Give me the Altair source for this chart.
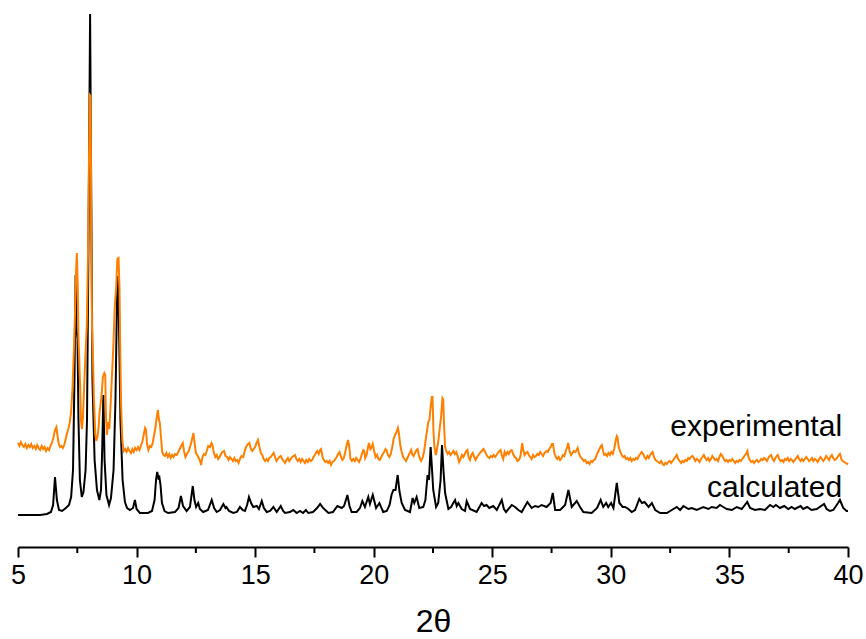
import altair as alt
import pandas as pd

# ---- calculated pattern (2theta, intensity) ----
calc_x = [5.00, 5.51, 5.93, 6.22, 6.39, 6.48, 6.56, 6.64, 6.73, 6.86, 7.02, 7.15, 7.24, 7.32, 7.38, 7.43, 7.47, 7.51, 7.55, 7.61,
          7.69, 7.76, 7.85, 7.91, 7.97, 8.04, 8.09, 8.14, 8.23, 8.33, 8.43, 8.50, 8.55, 8.60, 8.65, 8.73, 8.84, 8.92, 9.03, 9.11,
          9.19, 9.24, 9.27, 9.32, 9.41, 9.51, 9.60, 9.72, 9.85, 9.93, 10.00, 10.14, 10.48, 10.65, 10.76, 10.82, 10.87, 10.92, 10.96, 11.01,
          11.07, 11.18, 11.33, 11.62, 11.77, 11.87, 11.96, 12.11, 12.25, 12.37, 12.44, 12.51, 12.60, 12.67, 12.81, 13.01, 13.17, 13.27, 13.38, 13.52,
          13.66, 13.75, 13.79, 13.90, 14.08, 14.23, 14.36, 14.47, 14.57, 14.66, 14.74, 14.83, 14.92, 15.07, 15.16, 15.28, 15.37, 15.49, 15.63, 15.77,
          15.91, 16.08, 16.18, 16.26, 16.47, 16.61, 16.75, 16.89, 17.02, 17.14, 17.24, 17.44, 17.61, 17.74, 17.87, 18.09, 18.28, 18.47, 18.65, 18.75,
          18.89, 18.98, 19.07, 19.28, 19.42, 19.52, 19.63, 19.77, 19.84, 19.96, 20.10, 20.24, 20.40, 20.55, 20.67, 20.75, 20.83, 20.92, 21.01, 21.09,
          21.18, 21.32, 21.53, 21.64, 21.71, 21.81, 21.92, 22.09, 22.18, 22.27, 22.33, 22.40, 22.46, 22.51, 22.63, 22.72, 22.82, 22.88, 22.94, 23.01,
          23.15, 23.26, 23.43, 23.50, 23.57, 23.71, 23.85, 23.92, 24.06, 24.34, 24.55, 24.65, 24.76, 24.87, 25.04, 25.19, 25.40, 25.49, 25.58, 25.82,
          25.96, 26.10, 26.24, 26.48, 26.66, 26.80, 26.94, 27.08, 27.29, 27.46, 27.55, 27.65, 27.86, 28.07, 28.21, 28.35, 28.56, 28.70, 28.84, 29.19,
          29.42, 29.57, 29.68, 29.80, 29.89, 30.01, 30.11, 30.25, 30.36, 30.50, 30.60, 30.74, 30.88, 31.02, 31.20, 31.31, 31.42, 31.59, 31.73, 31.87,
          32.08, 32.36, 32.57, 32.78, 32.92, 33.06, 33.27, 33.41, 33.62, 33.90, 34.11, 34.25, 34.46, 34.60, 34.74, 34.89, 35.10, 35.31, 35.52, 35.75,
          35.87, 36.08, 36.29, 36.50, 36.71, 36.85, 36.96, 37.13, 37.31, 37.48, 37.62, 37.76, 38.00, 38.11, 38.28, 38.46, 38.68, 38.99, 39.10, 39.24,
          39.38, 39.58, 39.66, 39.80, 39.94, 40.00]
calc_y = [32, 32, 32, 33, 35, 42, 70, 47, 37, 36, 39, 42, 50, 77, 167, 272, 217, 208, 127, 67,
          50, 55, 77, 127, 297, 533, 347, 167, 87, 57, 47, 57, 97, 152, 87, 52, 42, 49, 77, 147,
          271, 247, 207, 127, 67, 45, 39, 37, 39, 47, 38, 34, 34, 36, 47, 67, 75, 69, 70, 62,
          44, 36, 34, 35, 39, 51, 41, 36, 40, 61, 47, 40, 44, 38, 35, 37, 47, 39, 35, 37,
          43, 39, 40, 36, 34, 35, 40, 37, 36, 42, 50, 44, 40, 41, 38, 46, 39, 35, 36, 40,
          35, 41, 36, 34, 35, 37, 34, 36, 34, 37, 34, 35, 39, 43, 39, 34, 35, 41, 39, 41,
          52, 41, 35, 35, 39, 46, 40, 50, 43, 52, 39, 44, 35, 36, 42, 52, 57, 57, 72, 55,
          44, 37, 35, 49, 44, 50, 39, 40, 47, 72, 67, 100, 77, 57, 40, 44, 67, 102, 77, 54,
          38, 40, 47, 41, 44, 38, 36, 46, 38, 35, 44, 41, 42, 39, 41, 37, 47, 38, 35, 42,
          40, 37, 35, 45, 39, 41, 40, 42, 40, 44, 54, 37, 37, 42, 57, 40, 46, 40, 35, 34,
          39, 47, 40, 44, 40, 44, 39, 64, 44, 40, 40, 38, 35, 37, 48, 44, 45, 40, 44, 37,
          34, 34, 37, 40, 37, 41, 38, 39, 37, 40, 38, 40, 39, 42, 40, 38, 37, 40, 38, 45,
          39, 37, 38, 37, 42, 40, 42, 39, 41, 38, 40, 38, 41, 38, 40, 37, 38, 43, 38, 36,
          37, 44, 47, 39, 36, 36]

# ---- experimental pattern (2theta, intensity) ----
exp_x = [5.00, 5.06, 5.12, 5.18, 5.25, 5.31, 5.37, 5.44, 5.50, 5.56, 5.62, 5.69, 5.75, 5.81, 5.87, 5.93, 6.00, 6.06, 6.12, 6.18,
         6.25, 6.31, 6.37, 6.43, 6.50, 6.56, 6.62, 6.66, 6.71, 6.77, 6.83, 6.89, 6.95, 7.00, 7.06, 7.12, 7.18, 7.24, 7.30, 7.36,
         7.40, 7.44, 7.48, 7.52, 7.55, 7.58, 7.62, 7.66, 7.70, 7.74, 7.78, 7.84, 7.90, 7.95, 7.99, 8.03, 8.06, 8.09, 8.12, 8.16,
         8.20, 8.26, 8.30, 8.35, 8.40, 8.44, 8.52, 8.58, 8.64, 8.68, 8.71, 8.75, 8.80, 8.85, 8.90, 8.96, 9.02, 9.08, 9.14, 9.19,
         9.24, 9.28, 9.31, 9.35, 9.40, 9.46, 9.52, 9.58, 9.64, 9.70, 9.76, 9.82, 9.88, 9.94, 10.00, 10.06, 10.12, 10.18, 10.24, 10.30,
         10.36, 10.40, 10.44, 10.50, 10.56, 10.62, 10.68, 10.74, 10.80, 10.85, 10.90, 10.94, 10.98, 11.03, 11.08, 11.14, 11.20, 11.26, 11.32, 11.38,
         11.44, 11.50, 11.56, 11.62, 11.70, 11.80, 11.88, 11.95, 12.00, 12.06, 12.12, 12.20, 12.28, 12.36, 12.40, 12.44, 12.50, 12.56, 12.62, 12.68,
         12.72, 12.78, 12.84, 12.90, 12.96, 13.02, 13.10, 13.16, 13.20, 13.26, 13.32, 13.38, 13.44, 13.50, 13.56, 13.62, 13.69, 13.75, 13.82, 13.88,
         13.94, 14.00, 14.06, 14.12, 14.18, 14.24, 14.30, 14.36, 14.42, 14.50, 14.56, 14.62, 14.70, 14.76, 14.82, 14.88, 14.94, 15.00, 15.06, 15.12,
         15.18, 15.24, 15.30, 15.36, 15.42, 15.48, 15.54, 15.60, 15.66, 15.72, 15.78, 15.84, 15.90, 15.96, 16.02, 16.08, 16.14, 16.20, 16.26, 16.32,
         16.38, 16.44, 16.50, 16.56, 16.62, 16.68, 16.74, 16.80, 16.86, 16.92, 16.98, 17.04, 17.10, 17.16, 17.22, 17.28, 17.34, 17.40, 17.46, 17.52,
         17.58, 17.62, 17.68, 17.74, 17.78, 17.84, 17.90, 17.96, 18.02, 18.08, 18.14, 18.20, 18.26, 18.32, 18.38, 18.44, 18.50, 18.56, 18.62, 18.68,
         18.74, 18.80, 18.86, 18.92, 18.97, 19.02, 19.08, 19.14, 19.20, 19.26, 19.32, 19.38, 19.44, 19.50, 19.56, 19.60, 19.64, 19.70, 19.76, 19.80,
         19.86, 19.92, 19.96, 20.02, 20.08, 20.14, 20.20, 20.26, 20.32, 20.38, 20.44, 20.50, 20.54, 20.60, 20.66, 20.72, 20.78, 20.84, 20.90, 20.96,
         21.02, 21.06, 21.12, 21.18, 21.24, 21.30, 21.36, 21.42, 21.48, 21.54, 21.58, 21.62, 21.68, 21.74, 21.80, 21.85, 21.90, 21.96, 22.00, 22.06,
         22.12, 22.18, 22.24, 22.30, 22.35, 22.40, 22.45, 22.48, 22.52, 22.56, 22.62, 22.66, 22.72, 22.78, 22.84, 22.90, 22.93, 22.97, 23.01, 23.06,
         23.12, 23.18, 23.24, 23.30, 23.36, 23.42, 23.48, 23.54, 23.60, 23.66, 23.72, 23.78, 23.84, 23.90, 23.95, 24.00, 24.06, 24.12, 24.18, 24.24,
         24.30, 24.36, 24.42, 24.48, 24.55, 24.63, 24.70, 24.76, 24.82, 24.88, 24.94, 25.00, 25.06, 25.12, 25.18, 25.24, 25.30, 25.35, 25.40, 25.46,
         25.52, 25.58, 25.64, 25.70, 25.76, 25.82, 25.88, 25.94, 26.00, 26.06, 26.12, 26.18, 26.22, 26.26, 26.30, 26.36, 26.42, 26.48, 26.54, 26.60,
         26.66, 26.72, 26.78, 26.84, 26.90, 26.96, 27.02, 27.08, 27.14, 27.20, 27.28, 27.34, 27.40, 27.46, 27.52, 27.56, 27.62, 27.68, 27.74, 27.80,
         27.86, 27.92, 27.98, 28.04, 28.10, 28.16, 28.20, 28.26, 28.32, 28.38, 28.44, 28.50, 28.56, 28.60, 28.66, 28.72, 28.80, 28.86, 28.92, 28.98,
         29.04, 29.10, 29.16, 29.22, 29.28, 29.34, 29.40, 29.46, 29.52, 29.58, 29.62, 29.67, 29.72, 29.78, 29.84, 29.90, 29.96, 30.02, 30.08, 30.14,
         30.20, 30.25, 30.28, 30.33, 30.40, 30.46, 30.52, 30.58, 30.64, 30.70, 30.76, 30.82, 30.88, 30.94, 31.00, 31.06, 31.12, 31.18, 31.24, 31.30,
         31.36, 31.42, 31.48, 31.54, 31.60, 31.66, 31.72, 31.76, 31.82, 31.88, 31.94, 32.00, 32.06, 32.12, 32.18, 32.24, 32.30, 32.36, 32.42, 32.48,
         32.54, 32.60, 32.66, 32.72, 32.78, 32.84, 32.90, 32.96, 33.02, 33.08, 33.14, 33.20, 33.26, 33.32, 33.38, 33.44, 33.50, 33.56, 33.62, 33.68,
         33.74, 33.80, 33.86, 33.92, 33.98, 34.04, 34.10, 34.16, 34.22, 34.28, 34.34, 34.40, 34.46, 34.52, 34.58, 34.64, 34.70, 34.76, 34.82, 34.88,
         34.94, 35.00, 35.06, 35.12, 35.18, 35.24, 35.30, 35.36, 35.42, 35.48, 35.54, 35.60, 35.66, 35.72, 35.76, 35.80, 35.86, 35.92, 35.98, 36.04,
         36.10, 36.16, 36.22, 36.28, 36.34, 36.40, 36.46, 36.52, 36.58, 36.64, 36.70, 36.76, 36.82, 36.88, 36.94, 37.00, 37.04, 37.10, 37.16, 37.22,
         37.28, 37.34, 37.40, 37.46, 37.52, 37.58, 37.64, 37.70, 37.76, 37.82, 37.88, 37.94, 38.00, 38.06, 38.12, 38.18, 38.24, 38.30, 38.36, 38.42,
         38.48, 38.54, 38.60, 38.66, 38.72, 38.78, 38.84, 38.90, 38.96, 39.02, 39.08, 39.14, 39.20, 39.26, 39.32, 39.38, 39.44, 39.50, 39.56, 39.62,
         39.66, 39.72, 39.78, 39.84, 39.90, 39.96, 40.00]
exp_y = [104, 101, 105, 102, 100, 103, 99, 102, 100, 103, 99, 101, 98, 102, 99, 97, 101, 98, 100, 96,
         99, 97, 101, 104, 110, 117, 120, 112, 104, 100, 101, 99, 102, 107, 113, 118, 124, 135, 160, 200,
         230, 270, 294, 260, 208, 190, 160, 125, 118, 130, 155, 190, 220, 290, 380, 452, 451, 330, 220, 190,
         150, 112, 106, 110, 120, 135, 150, 170, 174, 172, 130, 112, 125, 118, 140, 170, 200, 240, 260, 288,
         289, 259, 200, 140, 106, 96, 98, 95, 99, 96, 94, 98, 95, 99, 97, 100, 97, 101, 105, 112,
         119, 117, 103, 97, 101, 100, 104, 112, 120, 130, 137, 128, 124, 110, 95, 92, 91, 94, 90, 93,
         89, 92, 90, 93, 92, 97, 101, 104, 96, 90, 93, 96, 102, 110, 114, 105, 94, 92, 89, 86,
         82, 90, 93, 92, 96, 101, 100, 104, 102, 94, 90, 92, 88, 90, 93, 95, 96, 91, 90, 87,
         90, 88, 86, 89, 86, 87, 84, 88, 91, 90, 96, 100, 103, 104, 98, 96, 98, 100, 104, 107,
         100, 94, 92, 88, 86, 88, 86, 89, 90, 92, 94, 90, 86, 88, 90, 91, 88, 86, 84, 87,
         89, 86, 88, 90, 91, 92, 88, 86, 88, 85, 88, 86, 84, 87, 85, 88, 86, 87, 90, 92,
         95, 96, 93, 97, 98, 90, 87, 85, 86, 84, 86, 82, 85, 86, 88, 90, 93, 95, 90, 87,
         89, 95, 102, 107, 100, 88, 86, 88, 86, 89, 87, 85, 88, 93, 97, 96, 89, 92, 100, 104,
         98, 100, 103, 96, 90, 92, 88, 87, 90, 93, 95, 98, 97, 92, 90, 93, 100, 108, 112, 115,
         119, 114, 102, 95, 90, 88, 86, 89, 92, 95, 97, 93, 91, 94, 97, 98, 92, 88, 86, 89,
         95, 105, 115, 125, 127, 140, 150, 150, 115, 100, 92, 97, 105, 118, 130, 149, 148, 120, 100, 96,
         93, 95, 92, 94, 96, 93, 95, 91, 85, 88, 92, 90, 93, 96, 97, 90, 87, 92, 94, 90,
         87, 90, 92, 94, 96, 98, 95, 92, 90, 89, 91, 90, 92, 90, 92, 94, 96, 97, 92, 88,
         95, 92, 95, 93, 96, 97, 93, 90, 89, 86, 87, 90, 96, 104, 98, 92, 94, 95, 92, 90,
         88, 92, 90, 91, 93, 92, 95, 93, 91, 94, 96, 95, 98, 100, 103, 103, 94, 90, 88, 90,
         87, 89, 92, 91, 96, 100, 104, 96, 92, 94, 96, 95, 97, 99, 93, 90, 88, 86, 87, 84,
         85, 83, 86, 85, 87, 88, 92, 95, 98, 101, 102, 96, 92, 93, 91, 94, 92, 95, 93, 98,
         106, 111, 110, 100, 95, 92, 90, 91, 88, 89, 87, 89, 86, 88, 87, 89, 88, 91, 93, 95,
         93, 90, 88, 91, 89, 92, 94, 95, 90, 87, 86, 85, 84, 86, 83, 82, 84, 83, 85, 86,
         84, 86, 88, 90, 92, 88, 86, 84, 86, 85, 87, 86, 89, 88, 90, 91, 89, 86, 88, 87,
         85, 88, 90, 92, 89, 87, 89, 86, 88, 91, 89, 87, 88, 86, 90, 93, 91, 88, 86, 87,
         85, 87, 86, 88, 86, 84, 86, 85, 87, 86, 88, 90, 92, 94, 96, 90, 87, 85, 86, 84,
         86, 87, 85, 86, 88, 87, 89, 88, 86, 89, 91, 92, 88, 86, 89, 91, 92, 88, 86, 87,
         85, 88, 87, 89, 86, 88, 87, 85, 87, 89, 91, 88, 86, 88, 86, 88, 90, 88, 86, 87,
         89, 86, 88, 87, 85, 88, 90, 88, 86, 88, 91, 89, 87, 90, 92, 89, 87, 88, 90, 92,
         93, 88, 86, 85, 84, 83, 84]

major_ticks = [5, 10, 15, 20, 25, 30, 35, 40]
minor_ticks = [7.5, 12.5, 17.5, 22.5, 27.5, 32.5, 37.5]
label_text = ["experimental", "calculated"]
label_x = [39.75, 39.75]
label_y = [111, 50]

calc = pd.DataFrame({"t": calc_x, "i": calc_y})
expd = pd.DataFrame({"t": exp_x, "i": exp_y})
labels = pd.DataFrame({"t": label_x, "i": label_y, "label": label_text})
minor = pd.DataFrame({"t": minor_ticks})

W, H = 830, 540
xscale = alt.Scale(domain=[5, 40], nice=False, zero=False)
yscale = alt.Scale(domain=[0, 540], nice=False, zero=False)

xaxis = alt.Axis(values=major_ticks, title="2θ", format="d", grid=False,
                 domainColor="black", domainWidth=2, tickColor="black", tickWidth=2,
                 tickSize=10, labelFontSize=27, labelFont="Liberation Sans Narrow, Liberation Sans",
                 labelColor="black", labelPadding=5, titleFontSize=32,
                 titleFont="Liberation Sans", titleFontWeight="normal",
                 titleColor="black", titlePadding=18, labelFlush=False)

line_calc = alt.Chart(calc).mark_line(color="black", strokeWidth=2, interpolate="linear").encode(
    x=alt.X("t:Q", scale=xscale, axis=xaxis),
    y=alt.Y("i:Q", scale=yscale, axis=None),
    order="t:Q",
)
line_exp = alt.Chart(expd).mark_line(color="#ff8000", strokeWidth=2, interpolate="linear").encode(
    x=alt.X("t:Q", scale=xscale),
    y=alt.Y("i:Q", scale=yscale),
    order="t:Q",
)
text = alt.Chart(labels).mark_text(align="right", baseline="alphabetic", fontSize=30,
                                   font="Liberation Sans", color="black").encode(
    x=alt.X("t:Q", scale=xscale),
    y=alt.Y("i:Q", scale=yscale),
    text="label:N",
)
minor_rule = alt.Chart(minor).mark_rule(color="black", strokeWidth=2).encode(
    x=alt.X("t:Q", scale=xscale),
    y=alt.value(H),
    y2=alt.value(H + 6),
)

chart = alt.layer(line_calc, line_exp, text, minor_rule).properties(
    width=W, height=H,
    padding={"left": 18, "top": 7, "right": 18, "bottom": 92},
    autosize=alt.AutoSizeParams(type="none"),
    background="white",
).configure_view(stroke=None)

chart.save("out.html", embed_options={"renderer": "svg", "actions": False})
